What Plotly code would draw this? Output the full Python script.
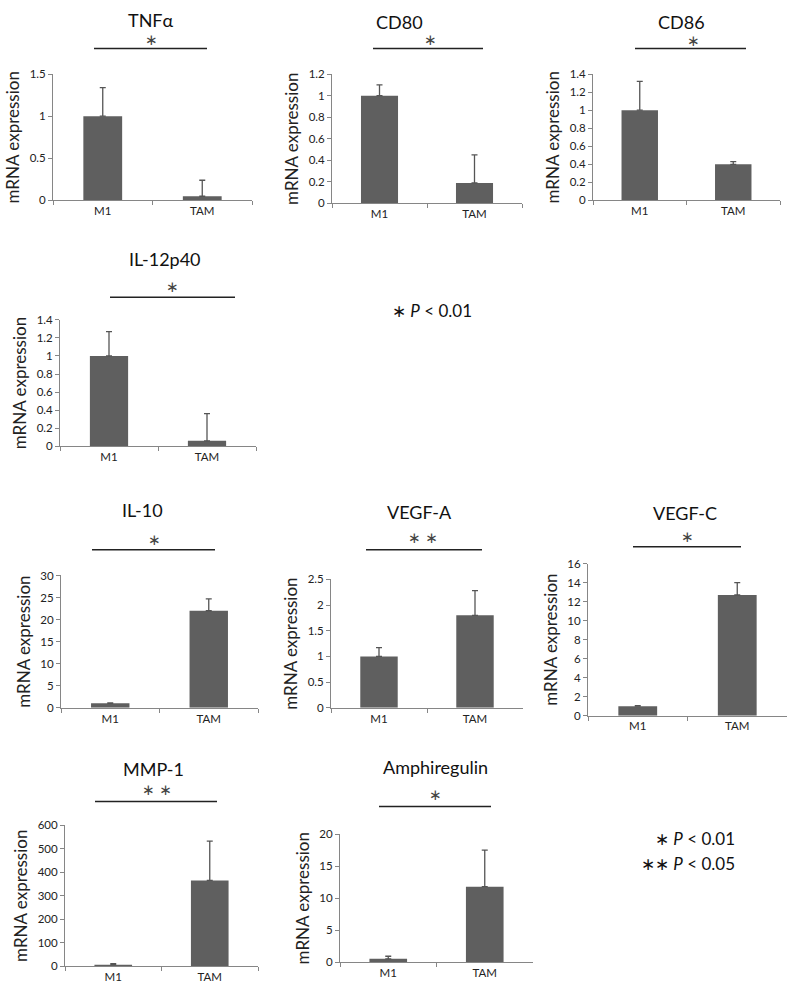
import plotly.graph_objects as go

# ---- data ----
genes = ["TNFα", "CD80", "CD86", "IL-12p40", "IL-10", "VEGF-A", "VEGF-C", "MMP-1", "Amphiregulin"]
groups = ["M1", "TAM"]
m1_vals = [1.0, 1.0, 1.0, 1.0, 1.0, 1.0, 1.0, 7, 0.55]
tam_vals = [0.05, 0.19, 0.40, 0.06, 22.0, 1.8, 12.7, 365, 11.8]
m1_err = [0.34, 0.10, 0.32, 0.27, 0.12, 0.17, 0.05, 4, 0.40]
tam_err = [0.19, 0.26, 0.03, 0.30, 2.7, 0.48, 1.3, 167, 5.7]
y_max = [1.5, 1.2, 1.4, 1.4, 30, 2.5, 16, 600, 20]
y_dtick = [0.5, 0.2, 0.2, 0.2, 5, 0.5, 2, 100, 5]
sig_marks = ["∗", "∗", "∗", "∗", "∗", "∗ ∗", "∗", "∗ ∗", "∗"]
y_title = "mRNA expression"

W, H = 793, 996


def px(x):
    return min(1.0, max(0.0, x / W))


def py(y):
    return min(1.0, max(0.0, 1 - y / H))


# plot boxes: x0, x1, ytop, ybottom (pixels)
boxes = [
    (53, 252, 68, 196), (332, 522, 68, 199), (593, 780, 68, 196),
    (60, 256, 317, 445),
    (61, 258, 576, 710), (331, 523, 580, 710), (588, 787, 564, 718),
    (65, 258, 829, 972), (340, 533, 838, 968),
]
title_pos = [(151, 13), (399, 15), (681, 15), (165, 255), (142, 510), (420, 512), (685, 513), (153, 772), (435, 770)]
star_pos = [(151, 33), (430, 33), (693, 34), (172, 284), (154, 540), (423, 538), (687, 537), (157, 793), (435, 798)]
bracket = [(94, 207, 42), (373, 483, 42), (635, 746, 42), (110, 235, 294), (92, 215, 550), (366, 482, 550),
           (633, 741, 547), (95, 217, 805), (379, 491, 810)]

FONT = "Lato"
BAR = "#5f5f5f"
AX = "#868686"
TXT = "#222222"

fig = go.Figure()
annotations = []
shapes = []

for i, g in enumerate(genes):
    n = "" if i == 0 else str(i + 1)
    x0, x1, yt, yb = boxes[i]
    fig.add_trace(go.Bar(
        x=groups, y=[m1_vals[i], tam_vals[i]],
        marker=dict(color=BAR, line=dict(width=0)),
        width=0.39,
        error_y=dict(type="data", symmetric=False, array=[m1_err[i], tam_err[i]],
                     arrayminus=[0, 0], color="#555555", thickness=1.3, width=3),
        xaxis="x" + n, yaxis="y" + n, showlegend=False,
    ))
    fig.update_layout(**{
        "xaxis" + n: dict(domain=[px(x0), px(x1)], anchor="y" + n, range=[-0.5, 1.5],
                          showline=True, linecolor=AX, linewidth=1, ticks="outside",
                          tickson="boundaries", ticklen=4, tickcolor=AX, showgrid=False,
                          tickfont=dict(family=FONT, size=11.5, color=TXT), fixedrange=True),
        "yaxis" + n: dict(domain=[py(yb), py(yt)], anchor="x" + n, range=[0, y_max[i]],
                          dtick=y_dtick[i], tick0=0, showline=True, linecolor=AX, linewidth=1,
                          ticks="outside", ticklen=4, tickcolor=AX, showgrid=False, zeroline=False,
                          tickfont=dict(family=FONT, size=11.5, color=TXT),
                          title=dict(text=y_title, font=dict(family=FONT, size=17, color=TXT), standoff=5)),
    })
    annotations.append(dict(x=px(title_pos[i][0]), y=py(title_pos[i][1]), xref="paper", yref="paper",
                            text=g, showarrow=False, font=dict(family=FONT, size=18, color="#111"),
                            xanchor="center", yanchor="middle"))
    annotations.append(dict(x=px(star_pos[i][0]), y=py(star_pos[i][1]), xref="paper", yref="paper",
                            text=sig_marks[i], showarrow=False,
                            font=dict(family="DejaVu Sans", size=15, color="#444"),
                            xanchor="center", yanchor="middle"))
    bx0, bx1, by = bracket[i]
    shapes.append(dict(type="line", xref="paper", yref="paper", x0=px(bx0), x1=px(bx1),
                       y0=py(by), y1=py(by), line=dict(color="#222", width=1.5)))

# p-value notes
note_font = dict(family=FONT, size=17, color="#111")
annotations.append(dict(x=px(432), y=py(308), xref="paper", yref="paper", showarrow=False,
                        text="∗ <i>P</i> < 0.01", font=note_font, xanchor="center", yanchor="middle"))
annotations.append(dict(x=px(737), y=py(843), xref="paper", yref="paper", showarrow=False,
                        text="∗ <i>P</i> < 0.01", font=note_font, xanchor="right", yanchor="middle"))
annotations.append(dict(x=px(737), y=py(868), xref="paper", yref="paper", showarrow=False,
                        text="∗∗ <i>P</i> < 0.05", font=note_font, xanchor="right", yanchor="middle"))

fig.update_layout(width=W, height=H, margin=dict(l=0, r=0, t=0, b=0),
                  paper_bgcolor="white", plot_bgcolor="white",
                  annotations=annotations, shapes=shapes, bargap=0.6)

fig.write_html("out.html", config={"displayModeBar": False},
               post_script="document.body.style.margin='0';document.body.style.overflow='hidden';")
